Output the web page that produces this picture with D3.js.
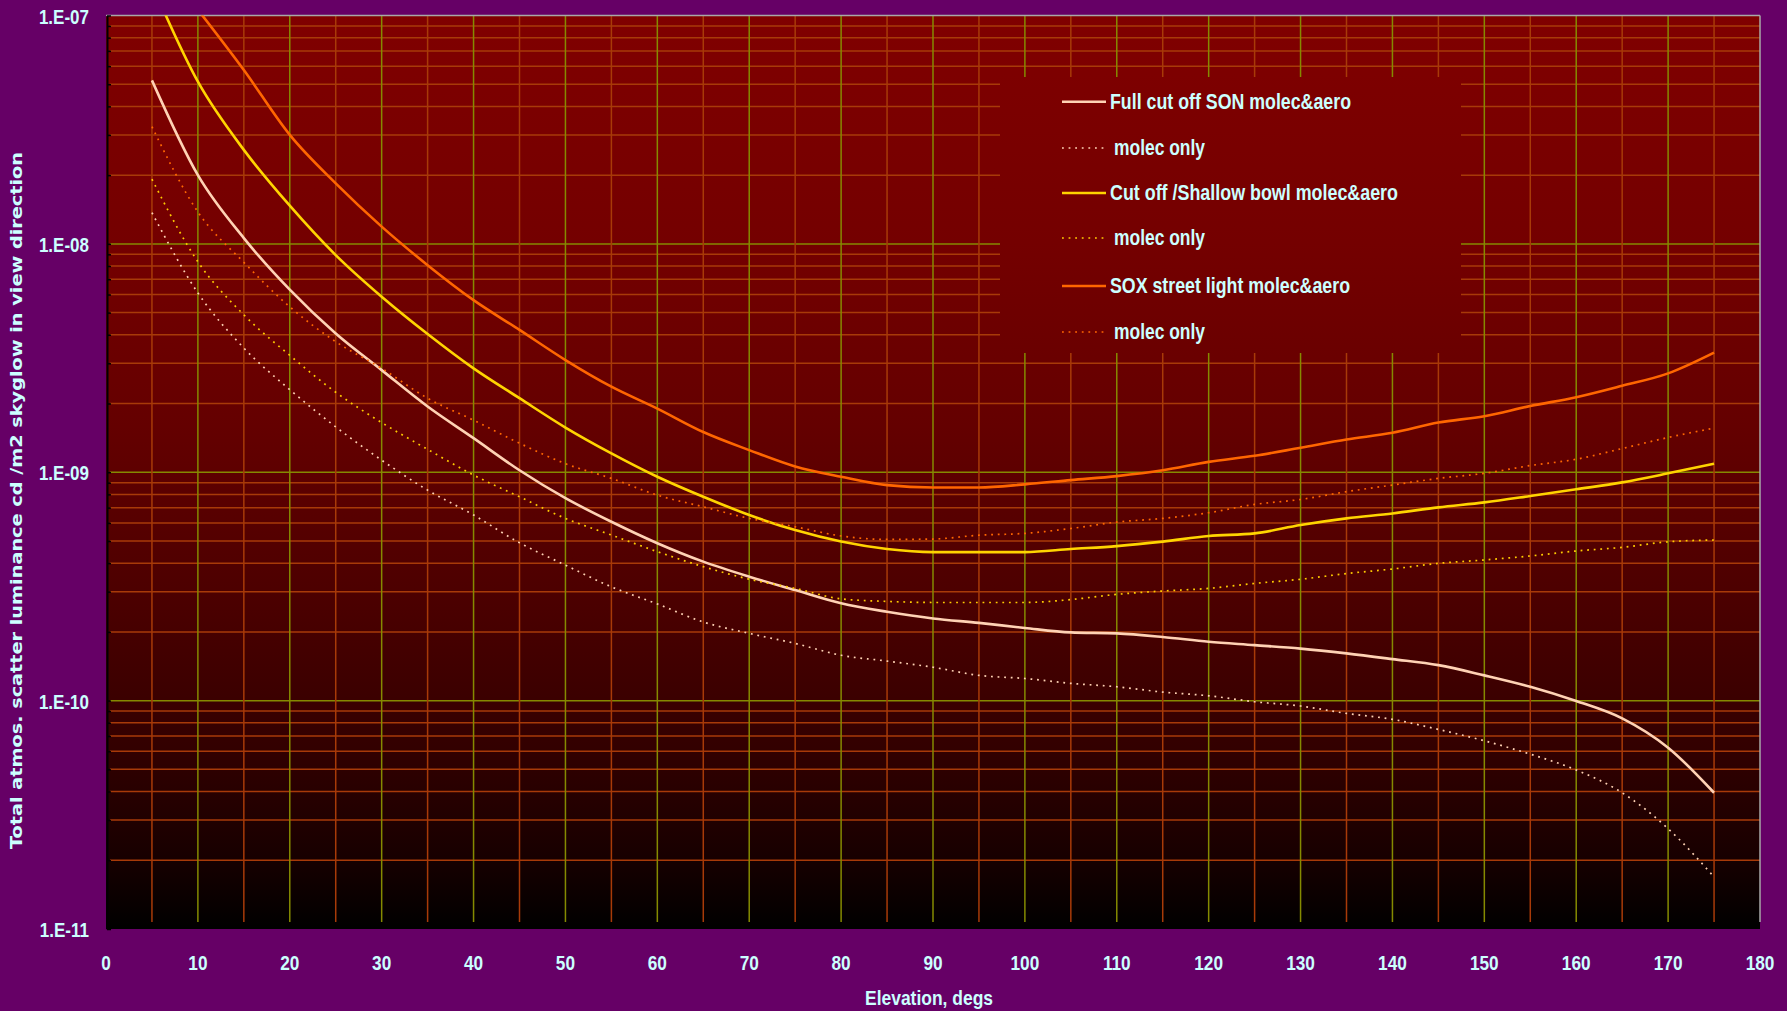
<!DOCTYPE html>
<html><head><meta charset="utf-8">
<script src="https://cdn.jsdelivr.net/npm/d3@7"></script>
<style>html,body{margin:0;padding:0;background:#660066;overflow:hidden}</style>
</head><body><svg id="c" width="1787" height="1011"></svg>
<script>
// ---------------- data ----------------
const elevations = [5,10,15,20,25,30,35,40,45,50,55,60,65,70,75,80,85,90,95,100,105,110,115,120,125,130,135,140,145,150,155,160,165,170,175];

const sonFull = [5.2e-8,2.0e-8,1.06e-8,6.3e-9,4.05e-9,2.8e-9,1.94e-9,1.41e-9,1.02e-9,7.7e-10,6.07e-10,4.89e-10,4.06e-10,3.49e-10,3.05e-10,2.67e-10,2.45e-10,2.29e-10,2.19e-10,2.08e-10,1.99e-10,1.97e-10,1.9e-10,1.81e-10,1.75e-10,1.69e-10,1.61e-10,1.52e-10,1.43e-10,1.29e-10,1.15e-10,9.96e-11,8.36e-11,6.22e-11,3.95e-11];
const sonMolec = [1.37e-8,6.1e-9,3.5e-9,2.3e-9,1.58e-9,1.13e-9,8.35e-10,6.5e-10,4.91e-10,3.92e-10,3.15e-10,2.65e-10,2.21e-10,1.97e-10,1.78e-10,1.58e-10,1.49e-10,1.40e-10,1.29e-10,1.25e-10,1.19e-10,1.15e-10,1.09e-10,1.05e-10,9.89e-11,9.47e-11,8.79e-11,8.28e-11,7.48e-11,6.67e-11,5.83e-11,4.97e-11,3.95e-11,2.75e-11,1.69e-11];
const cutoffFull = [1.37e-7,5.13e-8,2.58e-8,1.47e-8,8.93e-9,5.87e-9,4.03e-9,2.85e-9,2.11e-9,1.57e-9,1.21e-9,9.56e-10,7.81e-10,6.5e-10,5.58e-10,4.97e-10,4.61e-10,4.47e-10,4.47e-10,4.47e-10,4.61e-10,4.75e-10,4.97e-10,5.26e-10,5.4e-10,5.87e-10,6.28e-10,6.6e-10,7.02e-10,7.38e-10,7.87e-10,8.42e-10,9.03e-10,9.89e-10,1.09e-9];
const cutoffMolec = [1.92e-8,8.35e-9,4.89e-9,3.25e-9,2.24e-9,1.65e-9,1.26e-9,9.72e-10,7.81e-10,6.28e-10,5.31e-10,4.49e-10,3.86e-10,3.4e-10,3.1e-10,2.79e-10,2.72e-10,2.69e-10,2.69e-10,2.69e-10,2.77e-10,2.92e-10,3.02e-10,3.10e-10,3.26e-10,3.4e-10,3.6e-10,3.77e-10,3.99e-10,4.13e-10,4.3e-10,4.52e-10,4.69e-10,4.96e-10,5.05e-10];
const soxFull = [null,1.06e-7,5.77e-8,3.0e-8,1.84e-8,1.19e-8,8.07e-9,5.67e-9,4.2e-9,3.1e-9,2.37e-9,1.9e-9,1.5e-9,1.25e-9,1.06e-9,9.55e-10,8.78e-10,8.58e-10,8.58e-10,8.85e-10,9.24e-10,9.62e-10,1.02e-9,1.11e-9,1.18e-9,1.28e-9,1.39e-9,1.49e-9,1.65e-9,1.76e-9,1.95e-9,2.13e-9,2.39e-9,2.71e-9,3.34e-9];
const soxMolec = [3.26e-8,1.38e-8,8.3e-9,5.3e-9,3.73e-9,2.85e-9,2.11e-9,1.69e-9,1.34e-9,1.09e-9,9.4e-10,7.94e-10,7.06e-10,6.28e-10,5.77e-10,5.26e-10,5.08e-10,5.1e-10,5.3e-10,5.4e-10,5.67e-10,6.05e-10,6.28e-10,6.65e-10,7.23e-10,7.6e-10,8.22e-10,8.79e-10,9.4e-10,9.89e-10,1.07e-9,1.14e-9,1.27e-9,1.42e-9,1.56e-9];

const seriesNames = ["Full cut off SON molec&aero","molec only","Cut off /Shallow bowl molec&aero","molec only","SOX street light molec&aero","molec only"];
const xTickValues = [0,10,20,30,40,50,60,70,80,90,100,110,120,130,140,150,160,170,180];
const xTickLabels = ["0","10","20","30","40","50","60","70","80","90","100","110","120","130","140","150","160","170","180"];
const yTickValues = [1e-11,1e-10,1e-9,1e-8,1e-7];
const yTickLabels = ["1.E-11","1.E-10","1.E-09","1.E-08","1.E-07"];
const xTitle = "Elevation, degs";
const yTitle = "Total atmos. scatter luminance cd /m2  skyglow in view direction";

// ---------------- layout ----------------
const W = 1787, H = 1011;
const P = {left:106, right:1760, top:15.5, bottom:929};
const FONT = "'Liberation Sans', Arial, sans-serif";
const TXT = "#ccffff";

const svg = d3.select("#c");
svg.append("rect").attr("width", W).attr("height", H).attr("fill", "#660066");

const defs = svg.append("defs");
const grad = defs.append("linearGradient").attr("id","bg")
  .attr("gradientUnits","userSpaceOnUse")
  .attr("x1",0).attr("y1",P.top).attr("x2",0).attr("y2",P.bottom);
[[0,"#800000"],[0.25,"#740000"],[0.45,"#640000"],[0.65,"#4a0000"],[0.8,"#330000"],[0.92,"#180000"],[1,"#000000"]]
  .forEach(([o,c]) => grad.append("stop").attr("offset",o).attr("stop-color",c));
defs.append("clipPath").attr("id","clip").append("rect")
  .attr("x",P.left).attr("y",P.top).attr("width",P.right-P.left).attr("height",P.bottom-P.top);

const x = d3.scaleLinear().domain([0,180]).range([P.left,P.right]);
const y = d3.scaleLog().domain([1e-11,1e-7]).range([P.bottom,P.top]);

svg.append("rect").attr("x",P.left).attr("y",P.top)
  .attr("width",P.right-P.left).attr("height",P.bottom-P.top).attr("fill","url(#bg)");

const MAJOR = "#858a00", MINOR = "#a83a08";
const grid = svg.append("g");
const isDecade = v => Math.abs(Math.log10(v) - Math.round(Math.log10(v))) < 1e-6;
const hTicks = y.ticks().filter(v => v > 1.0001e-11 && v < 0.9999e-7);
grid.selectAll("line.h").data(hTicks).join("line")
  .attr("x1",P.left+4).attr("x2",P.right)
  .attr("y1",d=>y(d)).attr("y2",d=>y(d))
  .attr("stroke",d=>isDecade(d)?MAJOR:MINOR).attr("stroke-width",1.5);
const vTicks = x.ticks(36).filter(v => v > 0 && v < 180);
grid.selectAll("line.v").data(vTicks).join("line")
  .attr("x1",d=>x(d)).attr("x2",d=>x(d))
  .attr("y1",P.top).attr("y2",P.bottom-7)
  .attr("stroke",d=>d%10===0?MAJOR:MINOR).attr("stroke-width",1.5);

svg.append("line").attr("x1",P.left).attr("x2",P.right).attr("y1",P.top).attr("y2",P.top)
  .attr("stroke","#a8a8a8").attr("stroke-width",1.5);
svg.append("line").attr("x1",P.right).attr("x2",P.right).attr("y1",P.top).attr("y2",P.bottom-7)
  .attr("stroke","#a8a8a8").attr("stroke-width",1.5);
const yAxis = d3.axisLeft(y).tickValues(y.ticks()).tickSize(-4).tickSizeOuter(0).tickFormat("");
const ga = svg.append("g").attr("transform",`translate(${P.left+1},0)`).call(yAxis);
ga.select(".domain").attr("stroke","#000").attr("stroke-width",2);
ga.selectAll(".tick line").attr("stroke","#000").attr("stroke-width",1.5);

const series = [
  {vals:sonFull, color:"#ffd2b4", dash:null},
  {vals:sonMolec, color:"#ffd2b4", dash:"1.8,4.8"},
  {vals:cutoffFull, color:"#ffd400", dash:null},
  {vals:cutoffMolec, color:"#ffcc00", dash:"1.8,4.8"},
  {vals:soxFull, color:"#ff6600", dash:null},
  {vals:soxMolec, color:"#ff6600", dash:"1.8,4.8"}
];
const line = d3.line().defined(d=>d[1]!=null).x(d=>x(d[0])).y(d=>y(d[1])).curve(d3.curveMonotoneX);
const gl = svg.append("g").attr("clip-path","url(#clip)");
series.forEach(s => {
  const pts = elevations.map((e,i)=>[e,s.vals[i]]);
  gl.append("path").datum(pts).attr("d",line).attr("fill","none")
    .attr("stroke",s.color).attr("stroke-width",s.dash?1.7:2.6)
    .attr("stroke-dasharray",s.dash);
});

// legend
const LG = {x:1000, y:77, w:461, h:276};
svg.append("rect").attr("x",LG.x).attr("y",LG.y).attr("width",LG.w).attr("height",LG.h).attr("fill","url(#bg)");
const rowY = [101.7,148,193,238,286,332];
const legTextLen = [241,91,288,91,240,91];
series.forEach((s,i) => {
  svg.append("line").attr("x1",1062).attr("x2",1106).attr("y1",rowY[i]).attr("y2",rowY[i])
    .attr("stroke",s.color).attr("stroke-width",s.dash?1.7:2.6).attr("stroke-dasharray",s.dash);
  svg.append("text").attr("x", s.dash?1114:1110).attr("y",rowY[i]+7)
    .attr("font-family",FONT).attr("font-weight","bold").attr("font-size",22)
    .attr("fill",TXT).attr("textLength",legTextLen[i]).attr("lengthAdjust","spacingAndGlyphs")
    .text(seriesNames[i]);
});

function squeeze(sel, k){ sel.each(function(){ const L=this.getComputedTextLength(); this.setAttribute("textLength", L*k); this.setAttribute("lengthAdjust","spacingAndGlyphs"); }); }
const yl = svg.append("g").selectAll("text").data(yTickValues).join("text")
  .attr("x",89).attr("y",d=>y(d)+8).attr("text-anchor","end")
  .attr("font-family",FONT).attr("font-weight","bold").attr("font-size",21).attr("fill",TXT)
  .text((d,i)=>yTickLabels[i]);
squeeze(yl, 0.81);
const xl = svg.append("g").selectAll("text").data(xTickValues).join("text")
  .attr("x",d=>x(d)).attr("y",970).attr("text-anchor","middle")
  .attr("font-family",FONT).attr("font-weight","bold").attr("font-size",21).attr("fill",TXT)
  .text((d,i)=>xTickLabels[i]);
squeeze(xl, 0.82);

svg.append("text").attr("x",929).attr("y",1005).attr("text-anchor","middle")
  .attr("font-family",FONT).attr("font-weight","bold").attr("font-size",21).attr("fill",TXT)
  .attr("textLength",128).attr("lengthAdjust","spacingAndGlyphs").text(xTitle);
svg.append("text").attr("transform","translate(22,500.5) rotate(-90)").attr("text-anchor","middle")
  .attr("font-family","'DejaVu Sans', sans-serif").attr("font-weight","bold").attr("font-size",16).attr("fill",TXT)
  .attr("textLength",697).attr("lengthAdjust","spacingAndGlyphs").text(yTitle);
</script>
</body></html>
